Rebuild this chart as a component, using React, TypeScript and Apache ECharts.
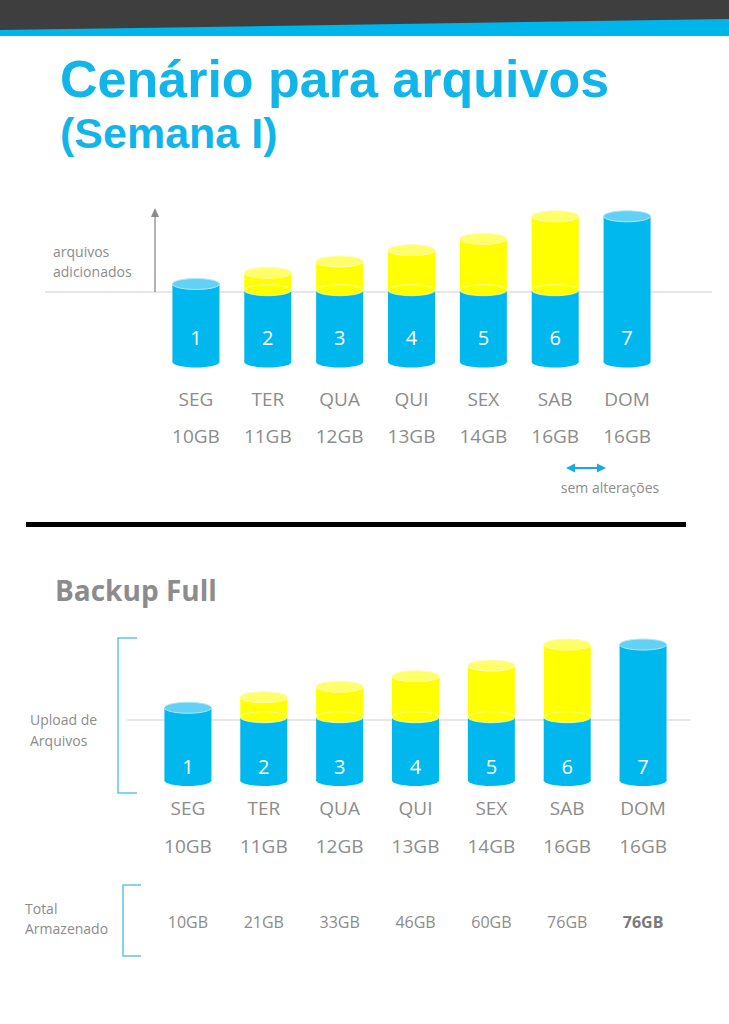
import React, { useEffect, useRef } from 'react';
import * as echarts from 'echarts';

// ---- data ----
const days = ['SEG', 'TER', 'QUA', 'QUI', 'SEX', 'SAB', 'DOM'];
const dayNumbers = ['1', '2', '3', '4', '5', '6', '7'];
const dailyGB = [10, 11, 12, 13, 14, 16, 16];
const hasNewFiles = [false, true, true, true, true, true, false];
const sizeLabels = ['10GB', '11GB', '12GB', '13GB', '14GB', '16GB', '16GB'];
const totalLabels = ['10GB', '21GB', '33GB', '46GB', '60GB', '76GB', '76GB'];

const Y_MIN = 3;
const Y_MAX = 17;
const TOP_BASE = 9.45;
const BOTTOM_BASE = 9.1;
const TOP_NUM_LEVEL = 5.3;
const BOTTOM_NUM_LEVEL = 4.4;

const BLUE = '#00b8ee';
const BLUE_TOP = '#62d1f5';
const YELLOW = '#ffff00';
const YELLOW_TOP = '#ffff6a';
const GREY = '#8c8c8c';
const TITLE_BLUE = '#12b5ea';
const FONT = '"Open Sans", "Noto Sans", sans-serif';
const TITLE_FONT = '"Liberation Sans", Arial, sans-serif';

function makeRenderItem(base: number, numLevel: number) {
  return (params: any, api: any) => {
    const i = api.value(0);
    const v = api.value(1);
    const isNew = api.value(2) === 1;
    const [cx, yTop] = api.coord([i, v]);
    const yBottom = api.coord([i, Y_MIN])[1] - 1;
    const ySplit = api.coord([i, base])[1];
    const yNum = api.coord([i, numLevel])[1];
    const w = 47;
    const rx = w / 2;
    const ry = 5.5;
    const children: any[] = [];
    children.push({ type: 'ellipse', shape: { cx, cy: yBottom, rx, ry }, style: { fill: BLUE } });
    if (isNew) {
      children.push({ type: 'rect', shape: { x: cx - rx, y: ySplit, width: w, height: yBottom - ySplit }, style: { fill: BLUE } });
      children.push({ type: 'rect', shape: { x: cx - rx, y: yTop, width: w, height: ySplit - yTop }, style: { fill: YELLOW } });
      children.push({ type: 'ellipse', shape: { cx, cy: ySplit, rx, ry }, style: { fill: YELLOW, stroke: 'rgba(255,255,255,0.6)', lineWidth: 1 } });
      children.push({ type: 'ellipse', shape: { cx, cy: yTop, rx, ry }, style: { fill: YELLOW_TOP, stroke: '#fffbc0', lineWidth: 1 } });
    } else {
      children.push({ type: 'rect', shape: { x: cx - rx, y: yTop, width: w, height: yBottom - yTop }, style: { fill: BLUE } });
      children.push({ type: 'ellipse', shape: { cx, cy: yTop, rx, ry }, style: { fill: BLUE_TOP, stroke: '#b0e9fb', lineWidth: 1 } });
    }
    children.push({
      type: 'text',
      x: cx,
      y: yNum,
      style: {
        text: dayNumbers[i],
        fill: '#ffffff',
        fontSize: 20,
        fontFamily: FONT,
        align: 'center',
        textAlign: 'center',
        verticalAlign: 'middle',
        textVerticalAlign: 'middle',
      },
    });
    return { type: 'group', children };
  };
}

function txt(text: string, x: number, y: number, size: number, fill: string, opts: any = {}) {
  return {
    type: 'text',
    x,
    y,
    z: 10,
    style: {
      text,
      fill,
      fontSize: size,
      lineHeight: size,
      fontFamily: opts.family || FONT,
      fontWeight: opts.weight || 'normal',
      align: opts.align || 'left',
      textAlign: opts.align || 'left',
      verticalAlign: 'middle',
      textVerticalAlign: 'middle',
    },
  };
}

export default function App() {
  const ref = useRef<HTMLDivElement>(null);
  useEffect(() => {
    if (!ref.current) return;
    const chart = echarts.init(ref.current, undefined, { renderer: 'svg' });
    const seriesData = dailyGB.map((v, i) => [i, v, hasNewFiles[i] ? 1 : 0]);
    const labelStyle = { fontSize: 19, color: GREY, fontFamily: FONT };
    const option: any = {
      animation: false,
      backgroundColor: '#ffffff',
      grid: [
        { left: 160, top: 205, width: 503, height: 158 },
        { left: 150, top: 634, width: 531, height: 147.5 },
      ],
      xAxis: [
        {
          gridIndex: 0,
          type: 'category',
          data: days,
          axisLine: { show: false },
          axisTick: { show: false },
          axisLabel: {
            interval: 0,
            margin: 17.5,
            formatter: (v: string, i: number) => `{d|${v}}\n{v|${sizeLabels[i]}}`,
            rich: { d: { ...labelStyle, lineHeight: 37 }, v: { ...labelStyle, lineHeight: 37 } },
          },
        },
        {
          gridIndex: 1,
          type: 'category',
          data: days,
          axisLine: { show: false },
          axisTick: { show: false },
          axisLabel: {
            interval: 0,
            margin: 7.5,
            formatter: (v: string, i: number) => `{d|${v}}\n{v|${sizeLabels[i]}}`,
            rich: { d: { ...labelStyle, lineHeight: 38 }, v: { ...labelStyle, lineHeight: 38 } },
          },
        },
        {
          gridIndex: 1,
          type: 'category',
          position: 'bottom',
          data: totalLabels,
          axisLine: { show: false },
          axisTick: { show: false },
          axisLabel: {
            interval: 0,
            margin: 130.5,
            formatter: (v: string, i: number) => (i === totalLabels.length - 1 ? `{b|${v}}` : `{n|${v}}`),
            rich: {
              n: { fontSize: 16, color: GREY, fontFamily: FONT, lineHeight: 20 },
              b: { fontSize: 16, color: '#7a7a7a', fontFamily: FONT, fontWeight: 'bold', lineHeight: 20 },
            },
          },
        },
      ],
      yAxis: [
        { gridIndex: 0, type: 'value', min: Y_MIN, max: Y_MAX, show: false },
        { gridIndex: 1, type: 'value', min: Y_MIN, max: Y_MAX, show: false },
      ],
      series: [
        {
          type: 'custom',
          xAxisIndex: 0,
          yAxisIndex: 0,
          z: 5,
          data: seriesData,
          renderItem: makeRenderItem(TOP_BASE, TOP_NUM_LEVEL),
        },
        {
          type: 'custom',
          xAxisIndex: 1,
          yAxisIndex: 1,
          z: 5,
          data: seriesData,
          renderItem: makeRenderItem(BOTTOM_BASE, BOTTOM_NUM_LEVEL),
        },
      ],
      graphic: [
        { type: 'rect', z: 1, shape: { x: 0, y: 0, width: 729, height: 36 }, style: { fill: '#00b5ec' } },
        { type: 'polygon', z: 2, shape: { points: [[0, 0], [729, 0], [729, 19], [0, 30]] }, style: { fill: '#3e3e3e' } },
        txt('Cenário para arquivos', 60, 79, 52, TITLE_BLUE, { weight: 'bold', family: TITLE_FONT }),
        txt('(Semana I)', 60, 133, 43, TITLE_BLUE, { weight: 'bold', family: TITLE_FONT }),
        // top chart decorations
        { type: 'line', z: 0, shape: { x1: 45, y1: 292, x2: 712, y2: 292 }, style: { stroke: '#cfcfcf', lineWidth: 1 } },
        { type: 'line', z: 1, shape: { x1: 155, y1: 292, x2: 155, y2: 215 }, style: { stroke: '#8a8a8a', lineWidth: 1.3 } },
        { type: 'polygon', z: 1, shape: { points: [[151, 217], [159, 217], [155, 208]] }, style: { fill: '#8a8a8a' } },
        txt('arquivos', 53, 251, 14, GREY),
        txt('adicionados', 53, 271, 14, GREY),
        { type: 'line', z: 1, shape: { x1: 573, y1: 468, x2: 599, y2: 468 }, style: { stroke: '#1aa9e0', lineWidth: 2 } },
        { type: 'polygon', z: 1, shape: { points: [[566, 468], [575, 463.5], [575, 472.5]] }, style: { fill: '#1aa9e0' } },
        { type: 'polygon', z: 1, shape: { points: [[606, 468], [597, 463.5], [597, 472.5]] }, style: { fill: '#1aa9e0' } },
        txt('sem alterações', 610, 487, 14, GREY, { align: 'center' }),
        // divider
        { type: 'rect', z: 1, shape: { x: 26, y: 522, width: 660, height: 5 }, style: { fill: '#000000' } },
        txt('Backup Full', 55, 590, 28, GREY, { weight: 'bold' }),
        // bottom chart decorations
        { type: 'line', z: 0, shape: { x1: 127, y1: 720, x2: 690, y2: 720 }, style: { stroke: '#cfcfcf', lineWidth: 1 } },
        { type: 'polyline', z: 1, shape: { points: [[137, 638], [118, 638], [118, 793], [137, 793]] }, style: { stroke: '#5cc6ea', lineWidth: 1.5, fill: 'none' } },
        txt('Upload de', 30, 719, 14, GREY),
        txt('Arquivos', 30, 740, 14, GREY),
        { type: 'polyline', z: 1, shape: { points: [[141, 885], [123, 885], [123, 956], [141, 956]] }, style: { stroke: '#5cc6ea', lineWidth: 1.5, fill: 'none' } },
        txt('Total', 25, 908, 14, GREY),
        txt('Armazenado', 25, 928, 14, GREY),
      ],
    };
    chart.setOption(option);
    return () => chart.dispose();
  }, []);
  return (
    <div
      ref={ref}
      style={{ position: 'absolute', left: 0, top: 0, width: 729, height: 1024, background: '#fff' }}
    />
  );
}
